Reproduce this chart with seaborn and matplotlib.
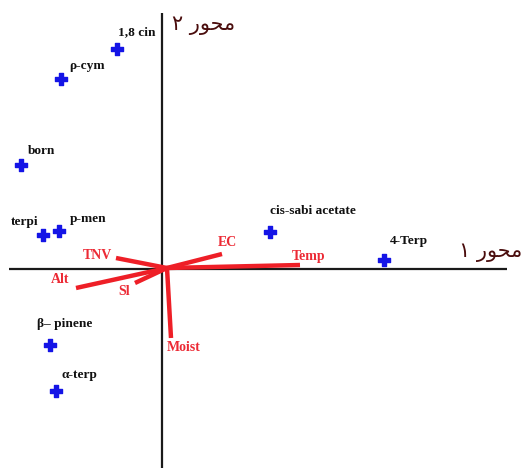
import matplotlib
matplotlib.use("Agg")
import matplotlib.pyplot as plt
import numpy as np
import pandas as pd
import seaborn as sns

# ── Data (biplot scores, axis 1 / axis 2) ─────────────────────────────────────
COMPOUNDS = ["1,8 cin", "ρ-cym", "born", "terpi", "p-men",
             "cis-sabi acetate", "4-Terp", "β– pinene", "α-terp"]
COMP_X = [-0.45, -1.01, -1.41, -1.19, -1.03, 1.08, 2.22, -1.12, -1.06]
COMP_Y = [2.20, 1.90, 1.04, 0.34, 0.38, 0.37, 0.09, -0.76, -1.22]

FACTORS = ["TNV", "Alt", "Sl", "EC", "Temp", "Moist"]
FACT_X = [-0.46, -0.86, -0.27, 0.60, 1.38, 0.09]
FACT_Y = [0.11, -0.19, -0.14, 0.15, 0.04, -0.69]
VEC_ORIGIN = (0.05, 0.01)

# axis titles, shaped by hand (matplotlib has no bidi / joining)
AXIS1 = "۱ ﺭﻮﺤﻣ"
AXIS2 = "۲ ﺭﻮﺤﻣ"

# label offsets in points (dx, dy, ha)
COMP_OFF = [(1, 8, "left"), (6, 5, "left"), (5, 6, "left"), (-3, 5, "right"),
            (8, 4, "left"), (0, 11, "left"), (4, 9, "left"), (-9, 11, "left"),
            (4, 7, "left")]
FACT_OFF = [(-3, 2, "right"), (-5, 6, "right"), (-4, -6, "right"),
            (4, 8, "center"), (6, 6, "center"), (-3, -7, "left")]

# ── Colours ───────────────────────────────────────────────────────────────────
BLUE = "#1414e6"
RED = "#ee1f27"
RED_TXT = "#ec2a35"
AXIS_TXT = "#4a0d0d"

sns.set_theme(style="white")
plt.rcParams["font.family"] = ["Liberation Serif", "DejaVu Serif"]

fig = plt.figure(figsize=(5.26, 4.68), dpi=100)
ax = fig.add_axes([0, 0, 1, 1])
ax.axis("off")

# main axes
ax.vlines(0, -1.99, 2.56, color="#1a1a1a", lw=1.6)
ax.hlines(0, -1.53, 3.45, color="#1a1a1a", lw=1.6)

# environmental vectors
for fx, fy in zip(FACT_X, FACT_Y):
    ax.plot([VEC_ORIGIN[0], fx], [VEC_ORIGIN[1], fy], color=RED, lw=3.2,
            solid_capstyle="butt", zorder=3)
for name, fx, fy, (dx, dy, ha) in zip(FACTORS, FACT_X, FACT_Y, FACT_OFF):
    ax.annotate(name, (fx, fy), xytext=(dx, dy), textcoords="offset points",
                ha=ha, va="center", color=RED_TXT, fontsize=10,
                fontweight="bold")

# compounds
df = pd.DataFrame({"x": COMP_X, "y": COMP_Y, "name": COMPOUNDS})
sns.scatterplot(data=df, x="x", y="y", marker="P", s=85, color=BLUE,
                edgecolor=BLUE, linewidth=1.0, ax=ax, zorder=4)
for name, cx, cy, (dx, dy, ha) in zip(COMPOUNDS, COMP_X, COMP_Y, COMP_OFF):
    ax.annotate(name, (cx, cy), xytext=(dx, dy), textcoords="offset points",
                ha=ha, va="bottom", color="#111111", fontsize=9.6,
                fontweight="bold")

ax.set_xlim(-1.62, 3.64)
ax.set_ylim(-1.99, 2.69)
ax.set_xlabel("")
ax.set_ylabel("")

ax.text(3.29, 0.17, AXIS1, ha="center", va="center", fontsize=15,
        color=AXIS_TXT, family=["DejaVu Sans", "Noto Sans"])
ax.text(0.42, 2.44, AXIS2, ha="center", va="center", fontsize=15,
        color=AXIS_TXT, family=["DejaVu Sans", "Noto Sans"])

fig.savefig("out.png", dpi=100, facecolor="white")
